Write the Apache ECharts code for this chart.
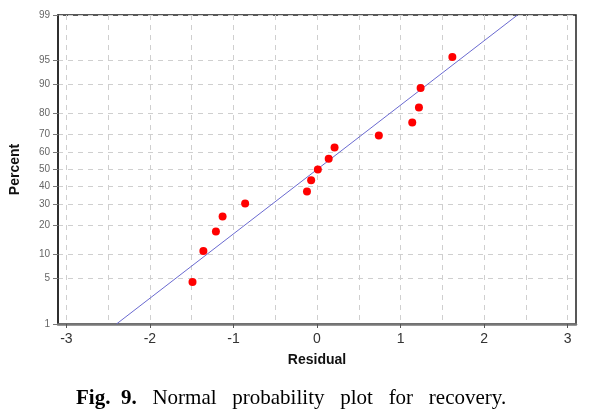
<!DOCTYPE html>
<html>
<head>
<meta charset="utf-8">
<script src="https://cdn.jsdelivr.net/npm/echarts@6/dist/echarts.min.js"></script>
<style>
html,body{margin:0;padding:0;background:#fff;}
#chart{width:596px;height:415px;}
</style>
</head>
<body>
<div id="chart"></div>
<script>
// ---- data ----
const residuals = [-1.49, -1.36, -1.21, -1.13, -0.86, -0.12, -0.07, 0.01, 0.14, 0.21, 0.74, 1.14, 1.22, 1.24, 1.62];
const percents  = [4.5, 11.0, 17.5, 24.0, 30.5, 37.0, 43.5, 50.0, 56.5, 63.0, 69.5, 76.0, 82.5, 89.0, 95.5];
const fitResidual = [-2.40, 2.40];
const fitPercent  = [1, 99];
const xTickValues = [-3, -2, -1, 0, 1, 2, 3];
const xGridValues = [-3, -2.5, -2, -1.5, -1, -0.5, 0, 0.5, 1, 1.5, 2, 2.5, 3];
const yTickPercents = [1, 5, 10, 20, 30, 40, 50, 60, 70, 80, 90, 95, 99];

// inverse standard normal CDF (Acklam) – the normal-probability axis transform
function probit(p) {
  const a = [-3.969683028665376e+01, 2.209460984245205e+02, -2.759285104469687e+02, 1.383577518672690e+02, -3.066479806614716e+01, 2.506628277459239e+00];
  const b = [-5.447609879822406e+01, 1.615858368580409e+02, -1.556989798598866e+02, 6.680131188771972e+01, -1.328068155288572e+01];
  const c = [-7.784894002430293e-03, -3.223964580411365e-01, -2.400758277161838e+00, -2.549732539343734e+00, 4.374664141464968e+00, 2.938163982698783e+00];
  const d = [7.784695709041462e-03, 3.224671290700398e-01, 2.445134137142996e+00, 3.754408661907416e+00];
  const pl = 0.02425, ph = 1 - pl;
  let q, r;
  if (p < pl) {
    q = Math.sqrt(-2 * Math.log(p));
    return (((((c[0]*q+c[1])*q+c[2])*q+c[3])*q+c[4])*q+c[5]) / ((((d[0]*q+d[1])*q+d[2])*q+d[3])*q+1);
  } else if (p <= ph) {
    q = p - 0.5; r = q*q;
    return (((((a[0]*r+a[1])*r+a[2])*r+a[3])*r+a[4])*r+a[5])*q / (((((b[0]*r+b[1])*r+b[2])*r+b[3])*r+b[4])*r+1);
  } else {
    q = Math.sqrt(-2 * Math.log(1 - p));
    return -(((((c[0]*q+c[1])*q+c[2])*q+c[3])*q+c[4])*q+c[5]) / ((((d[0]*q+d[1])*q+d[2])*q+d[3])*q+1);
  }
}
const z = pct => probit(pct / 100);
const yTickZ = yTickPercents.map(z);

const pointData = residuals.map((r, i) => [r, z(percents[i])]);
const lineData = fitResidual.map((r, i) => [r, z(fitPercent[i])]);

const chart = echarts.init(document.getElementById('chart'), null, {renderer: 'canvas'});
chart.setOption({
  animation: false,
  backgroundColor: '#ffffff',
  title: {
    left: 71,
    top: 383,
    text: '{b|Fig.  9.}   Normal   probability   plot   for   recovery.',
    textStyle: {
      fontFamily: 'Liberation Serif',
      fontSize: 21,
      fontWeight: 'normal',
      color: '#000',
      rich: {
        b: {fontFamily: 'Liberation Serif', fontSize: 21, fontWeight: 'bold', color: '#000'}
      }
    }
  },
  grid: {
    left: 53, right: 20, top: 15, bottom: 91,
    show: true, borderColor: '#222', borderWidth: 1.5, backgroundColor: '#fff'
  },
  xAxis: [{
    type: 'value', min: -3.1, max: 3.1,
    name: 'Residual', nameLocation: 'middle', nameGap: 29,
    nameTextStyle: {fontFamily: 'Liberation Sans', fontSize: 14, fontWeight: 'bold', color: '#111'},
    axisLine: {show: true, onZero: false, lineStyle: {color: '#777', width: 2.5}},
    axisTick: {show: true, length: 4, customValues: xTickValues, lineStyle: {color: '#555', width: 1}},
    axisLabel: {customValues: xTickValues, margin: 8, fontFamily: 'Liberation Sans', fontSize: 14, color: '#333'},
    splitLine: {show: false}
  }, {
    type: 'value', min: -3.1, max: 3.1, position: 'bottom',
    axisLine: {show: false}, axisLabel: {show: false},
    axisTick: {show: false, customValues: xGridValues},
    splitLine: {show: true, lineStyle: {color: '#cfcfcf', type: [5, 5], width: 1}}
  }],
  yAxis: {
    type: 'value', min: z(1), max: z(99),
    name: 'Percent', nameLocation: 'middle', nameGap: 36, nameRotate: 90,
    nameTextStyle: {fontFamily: 'Liberation Sans', fontSize: 14, fontWeight: 'bold', color: '#111'},
    axisLine: {show: true, onZero: false, lineStyle: {color: '#222', width: 1.5}},
    axisTick: {show: true, length: 5, customValues: yTickZ, lineStyle: {color: '#777'}},
    axisLabel: {customValues: yTickZ, margin: 8, fontFamily: 'Liberation Sans', fontSize: 10, color: '#666',
      formatter: v => {
        let best = yTickPercents[0], bd = Infinity;
        yTickPercents.forEach(p => { const dd = Math.abs(z(p) - v); if (dd < bd) { bd = dd; best = p; } });
        return String(best);
      }},
    splitLine: {show: true, lineStyle: {color: '#cfcfcf', type: [5, 5], width: 1}}
  },
  series: [{
    type: 'line', data: lineData, xAxisIndex: 0,
    symbol: 'none', lineStyle: {color: '#6a6ad0', width: 1}, z: 2, clip: true
  }, {
    type: 'scatter', data: pointData, xAxisIndex: 0,
    symbol: 'circle', symbolSize: 8, itemStyle: {color: '#ff0000', opacity: 1}, z: 3
  }]
});
</script>
</body>
</html>
